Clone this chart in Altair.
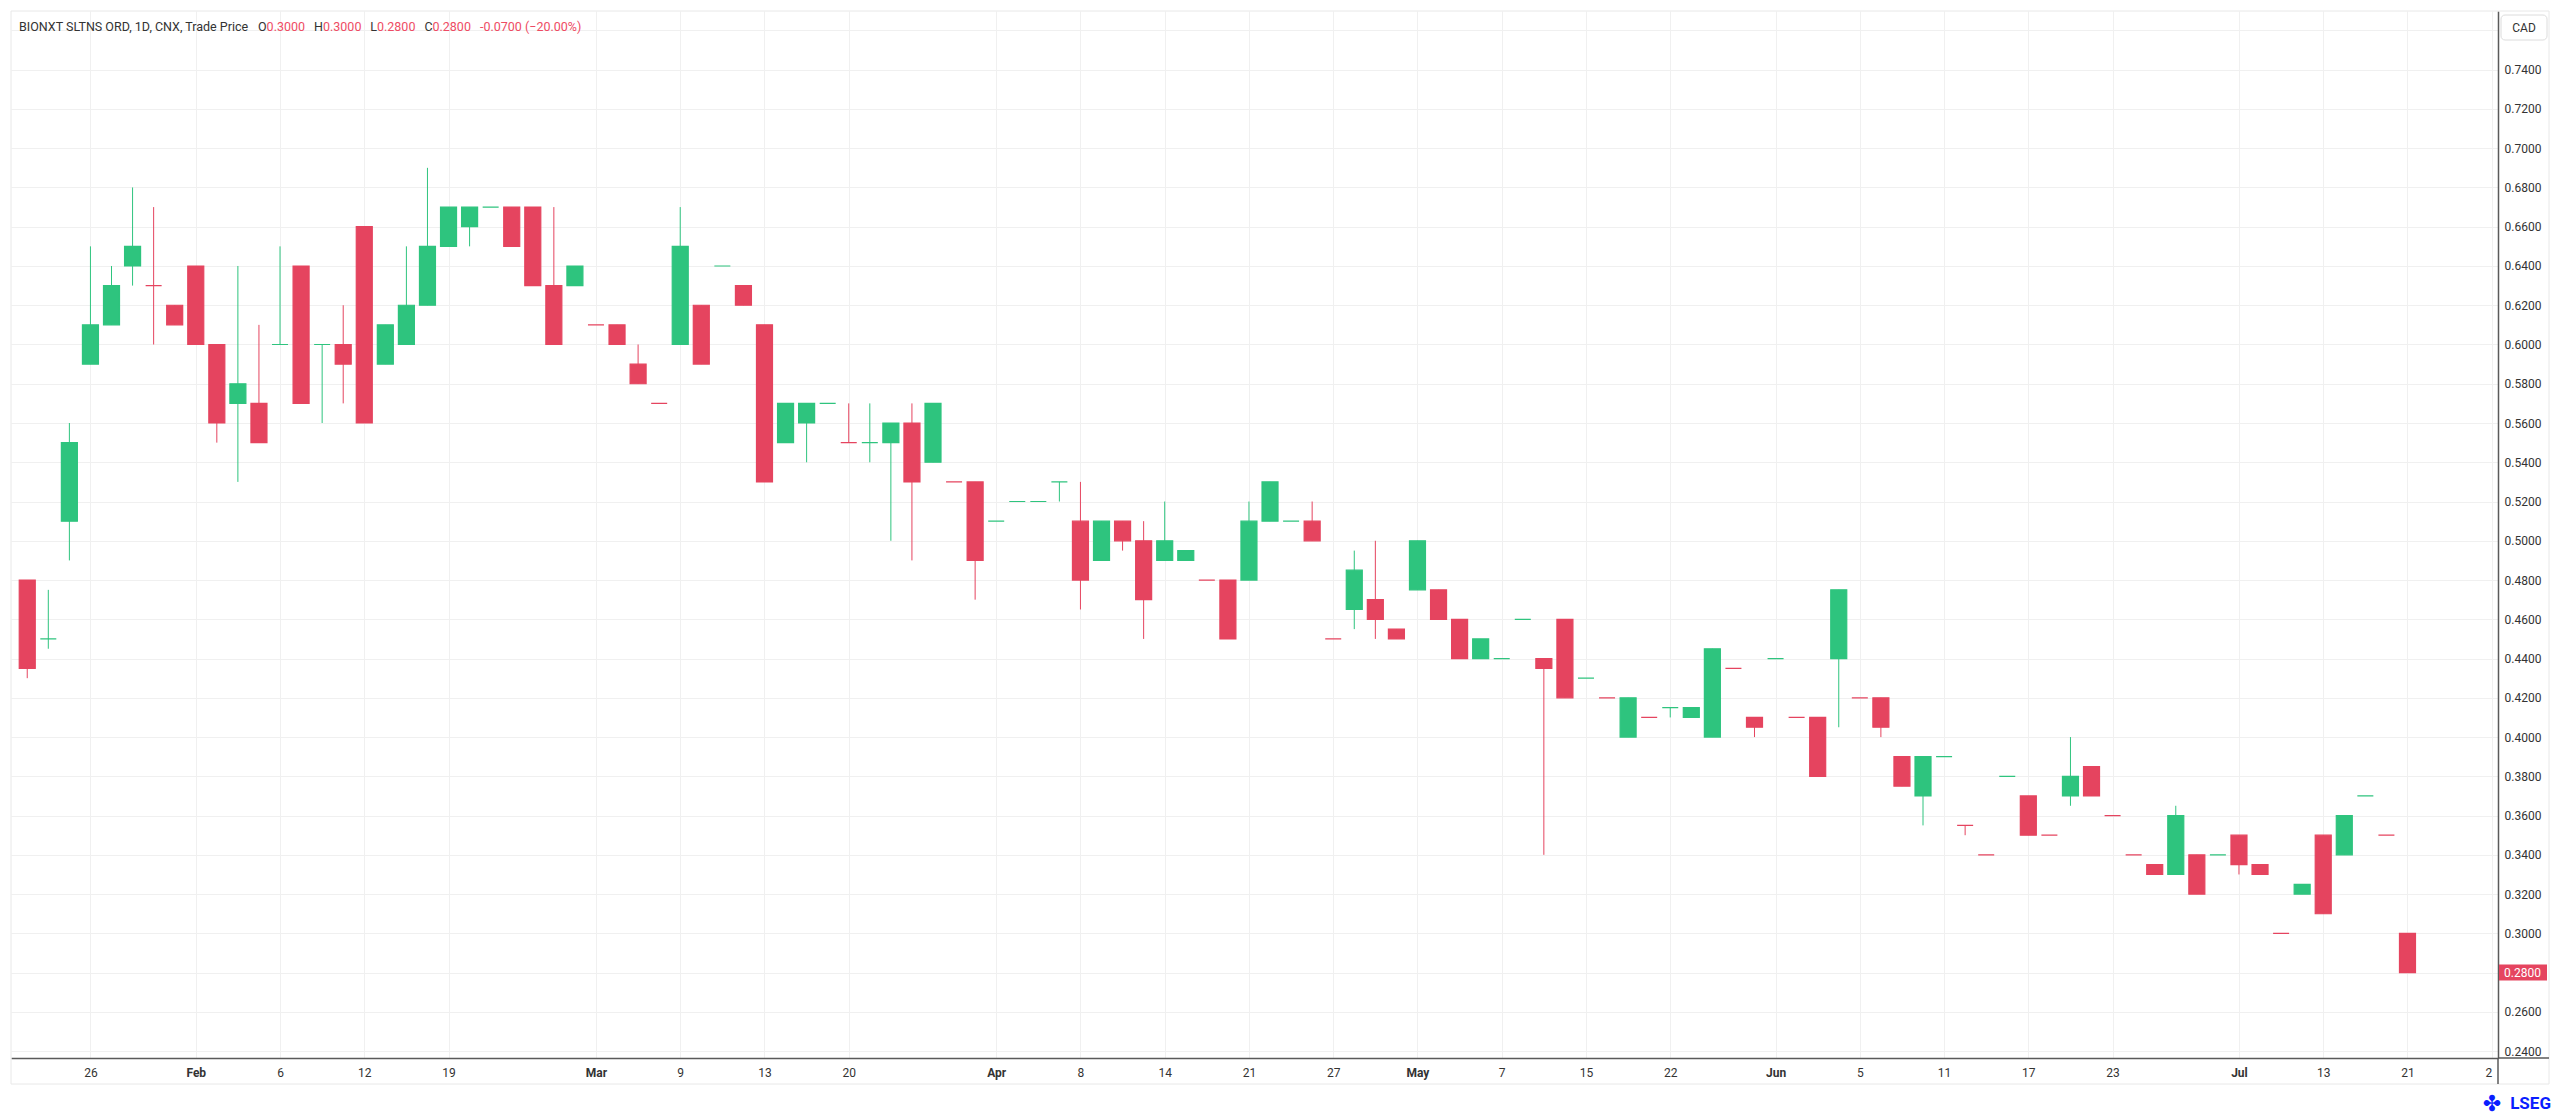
import altair as alt
import pandas as pd

# ---------------- data ----------------
opens = [0.48, 0.45, 0.51, 0.59, 0.61, 0.64, 0.63, 0.62, 0.64, 0.60,
         0.57, 0.57, 0.60, 0.64, 0.60, 0.60, 0.66, 0.59, 0.60, 0.62,
         0.65, 0.66, 0.67, 0.67, 0.67, 0.63, 0.63, 0.61, 0.61, 0.59,
         0.57, 0.60, 0.62, 0.64, 0.63, 0.61, 0.55, 0.56, 0.57, 0.55,
         0.55, 0.55, 0.56, 0.54, 0.53, 0.53, 0.51, 0.52, 0.52, 0.53,
         0.51, 0.49, 0.51, 0.50, 0.49, 0.49, 0.48, 0.48, 0.48, 0.51,
         0.51, 0.51, 0.45, 0.465, 0.47, 0.455, 0.475, 0.475, 0.46, 0.44,
         0.44, 0.46, 0.44, 0.46, 0.43, 0.42, 0.40, 0.41, 0.415, 0.41,
         0.40, 0.435, 0.41, 0.44, 0.41, 0.41, 0.44, 0.42, 0.42, 0.39,
         0.37, 0.39, 0.355, 0.34, 0.38, 0.37, 0.35, 0.37, 0.385, 0.36,
         0.34, 0.335, 0.33, 0.34, 0.34, 0.35, 0.335, 0.30, 0.32, 0.35,
         0.34, 0.37, 0.35, 0.30]
highs = [0.48, 0.475, 0.56, 0.65, 0.64, 0.68, 0.67, 0.62, 0.64, 0.60,
         0.64, 0.61, 0.65, 0.64, 0.60, 0.62, 0.66, 0.61, 0.65, 0.69,
         0.67, 0.67, 0.67, 0.67, 0.67, 0.67, 0.64, 0.61, 0.61, 0.60,
         0.57, 0.67, 0.62, 0.64, 0.63, 0.61, 0.57, 0.57, 0.57, 0.57,
         0.57, 0.56, 0.57, 0.57, 0.53, 0.53, 0.51, 0.52, 0.52, 0.53,
         0.53, 0.51, 0.51, 0.51, 0.52, 0.495, 0.48, 0.48, 0.52, 0.53,
         0.51, 0.52, 0.45, 0.495, 0.50, 0.455, 0.50, 0.475, 0.46, 0.45,
         0.44, 0.46, 0.44, 0.46, 0.43, 0.42, 0.42, 0.41, 0.415, 0.415,
         0.445, 0.435, 0.41, 0.44, 0.41, 0.41, 0.475, 0.42, 0.42, 0.39,
         0.39, 0.39, 0.355, 0.34, 0.38, 0.37, 0.35, 0.40, 0.385, 0.36,
         0.34, 0.335, 0.365, 0.34, 0.34, 0.35, 0.335, 0.30, 0.325, 0.35,
         0.36, 0.37, 0.35, 0.30]
lows = [0.43, 0.445, 0.49, 0.59, 0.61, 0.63, 0.60, 0.61, 0.60, 0.55,
        0.53, 0.55, 0.60, 0.57, 0.56, 0.57, 0.56, 0.59, 0.60, 0.62,
        0.65, 0.65, 0.67, 0.65, 0.63, 0.60, 0.63, 0.61, 0.60, 0.58,
        0.57, 0.60, 0.59, 0.64, 0.62, 0.53, 0.55, 0.54, 0.57, 0.55,
        0.54, 0.50, 0.49, 0.54, 0.53, 0.47, 0.51, 0.52, 0.52, 0.52,
        0.465, 0.49, 0.495, 0.45, 0.49, 0.49, 0.48, 0.45, 0.48, 0.51,
        0.51, 0.50, 0.45, 0.455, 0.45, 0.45, 0.475, 0.46, 0.44, 0.44,
        0.44, 0.46, 0.34, 0.42, 0.43, 0.42, 0.40, 0.41, 0.41, 0.41,
        0.40, 0.435, 0.40, 0.44, 0.41, 0.38, 0.405, 0.42, 0.40, 0.375,
        0.355, 0.39, 0.35, 0.34, 0.38, 0.35, 0.35, 0.365, 0.37, 0.36,
        0.34, 0.33, 0.33, 0.32, 0.34, 0.33, 0.33, 0.30, 0.32, 0.31,
        0.34, 0.37, 0.35, 0.28]
closes = [0.435, 0.45, 0.55, 0.61, 0.63, 0.65, 0.63, 0.61, 0.60, 0.56,
          0.58, 0.55, 0.60, 0.57, 0.60, 0.59, 0.56, 0.61, 0.62, 0.65,
          0.67, 0.67, 0.67, 0.65, 0.63, 0.60, 0.64, 0.61, 0.60, 0.58,
          0.57, 0.65, 0.59, 0.64, 0.62, 0.53, 0.57, 0.57, 0.57, 0.55,
          0.55, 0.56, 0.53, 0.57, 0.53, 0.49, 0.51, 0.52, 0.52, 0.53,
          0.48, 0.51, 0.50, 0.47, 0.50, 0.495, 0.48, 0.45, 0.51, 0.53,
          0.51, 0.50, 0.45, 0.485, 0.46, 0.45, 0.50, 0.46, 0.44, 0.45,
          0.44, 0.46, 0.435, 0.42, 0.43, 0.42, 0.42, 0.41, 0.415, 0.415,
          0.445, 0.435, 0.405, 0.44, 0.41, 0.38, 0.475, 0.42, 0.405, 0.375,
          0.39, 0.39, 0.355, 0.34, 0.38, 0.35, 0.35, 0.38, 0.37, 0.36,
          0.34, 0.33, 0.36, 0.32, 0.34, 0.335, 0.33, 0.30, 0.325, 0.31,
          0.36, 0.37, 0.35, 0.28]
# candle colour as drawn: u = up (green), d = down (red)
direction = list("duuuuudddd" "udududduuu" "uuuddduddd" "dududduuud"
                 "uududduuuu" "dudduudduu" "uddudduddu" "uuddududuu"
                 "uddudduddd" "uudduddudd" "ddududddud" "uudd")

tick_index = [3, 8, 12, 16, 20, 27, 31, 35, 39, 46, 50, 54, 58, 62, 66, 70,
              74, 78, 83, 87, 91, 95, 99, 105, 109, 113, 117]
tick_labels = ["26", "Feb", "6", "12", "19", "Mar", "9", "13", "20", "Apr",
               "8", "14", "21", "27", "May", "7", "15", "22", "Jun", "5",
               "11", "17", "23", "Jul", "13", "21", "2"]
month_index = [8, 27, 46, 66, 83, 105]
price_ticks = [0.24, 0.26, 0.28, 0.30, 0.32, 0.34, 0.36, 0.38, 0.40, 0.42,
               0.44, 0.46, 0.48, 0.50, 0.52, 0.54, 0.56, 0.58, 0.60, 0.62,
               0.64, 0.66, 0.68, 0.70, 0.72, 0.74, 0.76]

instrument = "BIONXT SLTNS ORD, 1D, CNX, Trade Price"
currency = "CAD"
brand = "LSEG"

# ---------------- styling ----------------
GREEN = "#2EC47E"
RED = "#E5445F"
VAL_RED = "#EE4B63"
TXT = "#333333"
GRID = "#F0F0F0"
DOMAIN = "#5A5A5A"
FONT = "Roboto"
W, H = 2487, 1047

n = len(opens)
df = pd.DataFrame({"i": list(range(n)), "open": opens, "high": highs,
                   "low": lows, "close": closes, "dir": direction})

xscale = alt.Scale(domain=[-0.534, 117.06], nice=False, zero=False)
yscale = alt.Scale(domain=[0.2365, 0.7699], nice=False, zero=False)
cscale = alt.Scale(domain=["u", "d"], range=[GREEN, RED])

lab_arr = "[" + ",".join("'%s'" % s for s in tick_labels) + "]"
idx_arr = "[" + ",".join(str(v) for v in tick_index) + "]"
mon_arr = "[" + ",".join(str(v) for v in month_index) + "]"

xaxis = alt.Axis(values=tick_index,
                 labelExpr=f"{lab_arr}[indexof({idx_arr}, datum.value)]",
                 grid=True, gridColor=GRID, gridWidth=1,
                 ticks=False, tickSize=0,
                 domainColor=DOMAIN, domainWidth=1.5,
                 labelPadding=14, labelBaseline="middle",
                 labelFont=FONT, labelFontSize=12, labelColor=TXT,
                 labelFontWeight={"condition": {"test": f"indexof({mon_arr}, datum.value) >= 0", "value": "bold"}, "value": "normal"},
                 labelAlign={"condition": {"test": "datum.value == 117", "value": "right"}, "value": "center"},
                 labelFlush=False, labelOverlap=False, title=None)
yaxis = alt.Axis(orient="right", values=price_ticks,
                 labelExpr="datum.value > 0.75 ? '' : format(datum.value, '.4f')",
                 grid=True, gridColor=GRID, gridWidth=1,
                 ticks=False, tickSize=0,
                 domainColor=DOMAIN, domainWidth=1.5,
                 labelPadding=6, labelFont=FONT, labelFontSize=12,
                 labelColor=TXT, labelFlush=False, labelOverlap=False,
                 title=None)

X = alt.X("i:Q", scale=xscale, axis=xaxis)

base = alt.Chart(df)

wicks = base.mark_rule(strokeWidth=1).encode(
    x=X,
    y=alt.Y("low:Q", scale=yscale, axis=yaxis),
    y2="high:Q",
    color=alt.Color("dir:N", scale=cscale, legend=None),
)
bodies = base.mark_bar(size=16, strokeWidth=1.2).encode(
    x=X,
    y=alt.Y("open:Q", scale=yscale, axis=yaxis),
    y2="close:Q",
    color=alt.Color("dir:N", scale=cscale, legend=None),
    stroke=alt.Stroke("dir:N", scale=cscale, legend=None),
)

# outer frame and axis extensions
frame = alt.Chart(pd.DataFrame({"k": [0]})).mark_rect(
    fillOpacity=0, stroke="#E8E8E8", strokeWidth=1).encode(
    x=alt.value(0), x2=alt.value(W + 51), y=alt.value(0), y2=alt.value(H + 26))
xline_ext = alt.Chart(pd.DataFrame({"k": [0]})).mark_rule(
    color=DOMAIN, strokeWidth=1.5).encode(
    x=alt.value(W), x2=alt.value(W + 51), y=alt.value(H))
yline_ext = alt.Chart(pd.DataFrame({"k": [0]})).mark_rule(
    color=DOMAIN, strokeWidth=1.5).encode(
    x=alt.value(W), y=alt.value(H), y2=alt.value(H + 26))

# last price label on the axis
last = df.tail(1).copy()
last["label"] = last["close"].map(lambda v: f"{v:.4f}")
price_box = alt.Chart(last).mark_tick(orient="horizontal", size=48, thickness=16,
                                      color=RED, opacity=1).encode(
    x=alt.value(W + 25), y=alt.Y("close:Q", scale=yscale, axis=yaxis))
price_txt = alt.Chart(last).mark_text(align="left", baseline="middle", color="white",
                                      font=FONT, fontSize=12).encode(
    x=alt.value(W + 6), y=alt.Y("close:Q", scale=yscale, axis=yaxis), text="label:N")

# currency box
cur_df = pd.DataFrame({"t": [currency]})
cad_box = alt.Chart(cur_df).mark_rect(fill="white", stroke="#DCDCDC", strokeWidth=1,
                                      cornerRadius=4).encode(
    x=alt.value(W + 3), x2=alt.value(W + 49), y=alt.value(4), y2=alt.value(29))
cad_txt = alt.Chart(cur_df).mark_text(align="center", baseline="middle", color=TXT,
                                      font=FONT, fontSize=12).encode(
    x=alt.value(W + 26), y=alt.value(17), text="t:N")

# legend line (title) with OHLC values of the last bar
o, h, l, c = opens[-1], highs[-1], lows[-1], closes[-1]
prev = closes[-2]
chg = c - prev
pct = chg / prev * 100
pieces = [
    (instrument, 8, TXT),
    ("O", 247, TXT), (f"{o:.4f}", 255.6, VAL_RED),
    ("H", 303, TXT), (f"{h:.4f}", 312, VAL_RED),
    ("L", 359.3, TXT), (f"{l:.4f}", 366, VAL_RED),
    ("C", 413.4, TXT), (f"{c:.4f}", 421.5, VAL_RED),
    (f"{chg:.4f} ({pct:.2f}%)".replace("(-", "(\u2212"), 469, VAL_RED),
]
title_layers = []
for txt, xpos, col in pieces:
    title_layers.append(
        alt.Chart(pd.DataFrame({"t": [txt]})).mark_text(
            align="left", baseline="middle", color=col, font=FONT, fontSize=12.5).encode(
            x=alt.value(xpos), y=alt.value(16), text="t:N"))

# brand mark
brand_txt = alt.Chart(pd.DataFrame({"t": [brand]})).mark_text(
    align="right", baseline="middle", color="#0A1EFF", font=FONT, fontSize=17,
    fontWeight="bold").encode(x=alt.value(W + 53), y=alt.value(H + 46), text="t:N")
brand_icon = alt.Chart(pd.DataFrame({"t": ["\u2724"]})).mark_text(
    align="center", baseline="middle", color="#0A1EFF", font="DejaVu Sans",
    fontSize=22).encode(x=alt.value(W - 6), y=alt.value(H + 46), text="t:N")

chart = alt.layer(
    frame, wicks, bodies, xline_ext, yline_ext, price_box, price_txt,
    cad_box, cad_txt, *title_layers, brand_txt, brand_icon
).properties(
    width=W, height=H,
    padding={"left": 2, "top": 2, "right": 0, "bottom": 0},
    background="white",
).configure_view(stroke=None)

chart.save("out.html", embed_options={"renderer": "svg", "actions": False})
